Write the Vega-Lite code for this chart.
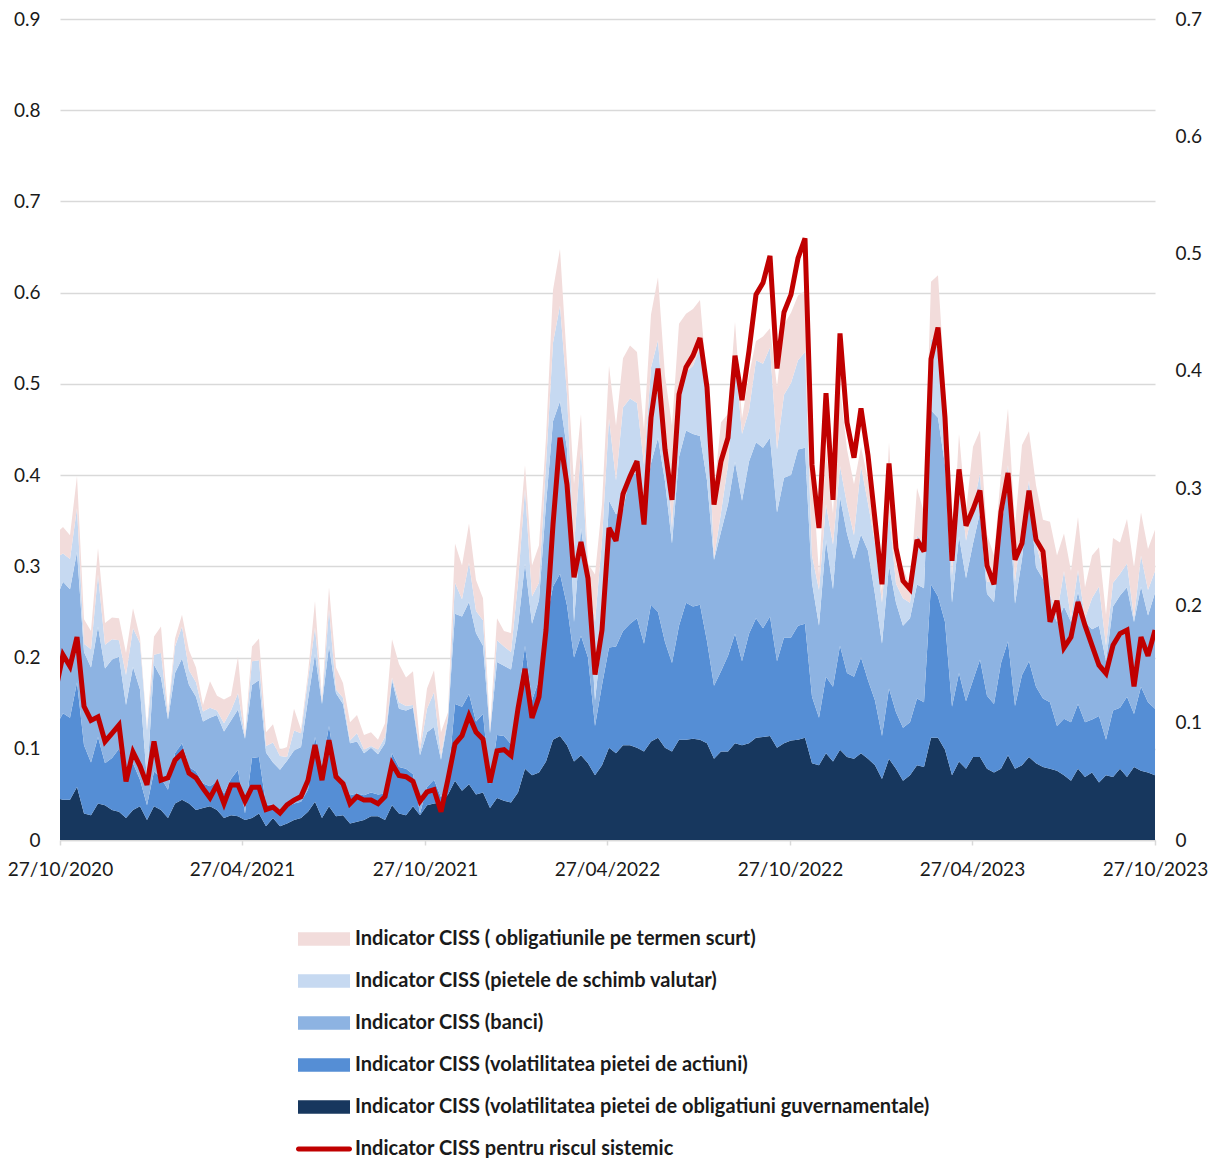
{
  "$schema": "https://vega.github.io/schema/vega-lite/v6.json",
  "width": 1095,
  "height": 821,
  "autosize": {"type": "none"},
  "padding": {"left": 60, "top": 19, "right": 54, "bottom": 318},
  "background": "white",
  "config": {
    "view": {"stroke": null},
    "font": "Lato",
    "axis": {"labelFont": "Lato", "labelFontSize": 19, "labelColor": "#1a1a1a"}
  },
  "data": {"values": [
{"t":"2020-10-23","a":0.046,"b":0.079,"c":0.139,"d":0.046,"e":0.026,"r":0.129},
{"t":"2020-10-30","a":0.044,"b":0.095,"c":0.144,"d":0.031,"e":0.029,"r":0.158},
{"t":"2020-11-06","a":0.044,"b":0.090,"c":0.141,"d":0.033,"e":0.026,"r":0.148},
{"t":"2020-11-13","a":0.058,"b":0.115,"c":0.143,"d":0.048,"e":0.035,"r":0.173},
{"t":"2020-11-20","a":0.029,"b":0.075,"c":0.102,"d":0.009,"e":0.027,"r":0.114},
{"t":"2020-11-27","a":0.027,"b":0.058,"c":0.104,"d":0.020,"e":0.020,"r":0.102},
{"t":"2020-12-04","a":0.040,"b":0.073,"c":0.121,"d":0.057,"e":0.029,"r":0.105},
{"t":"2020-12-11","a":0.038,"b":0.046,"c":0.104,"d":0.026,"e":0.024,"r":0.084},
{"t":"2020-12-18","a":0.033,"b":0.057,"c":0.108,"d":0.022,"e":0.024,"r":0.091},
{"t":"2020-12-25","a":0.031,"b":0.069,"c":0.101,"d":0.018,"e":0.024,"r":0.098},
{"t":"2021-01-01","a":0.024,"b":0.051,"c":0.073,"d":0.033,"e":0.024,"r":0.050},
{"t":"2021-01-08","a":0.033,"b":0.051,"c":0.106,"d":0.042,"e":0.022,"r":0.075},
{"t":"2021-01-15","a":0.037,"b":0.029,"c":0.099,"d":0.051,"e":0.006,"r":0.063},
{"t":"2021-01-22","a":0.022,"b":0.016,"c":0.027,"d":0.055,"e":0.002,"r":0.047},
{"t":"2021-01-29","a":0.037,"b":0.038,"c":0.117,"d":0.011,"e":0.020,"r":0.084},
{"t":"2021-02-05","a":0.033,"b":0.035,"c":0.110,"d":0.027,"e":0.029,"r":0.051},
{"t":"2021-02-12","a":0.024,"b":0.031,"c":0.077,"d":0.004,"e":0.004,"r":0.053},
{"t":"2021-02-19","a":0.040,"b":0.055,"c":0.088,"d":0.029,"e":0.009,"r":0.068},
{"t":"2021-02-26","a":0.044,"b":0.062,"c":0.093,"d":0.035,"e":0.013,"r":0.074},
{"t":"2021-03-05","a":0.040,"b":0.040,"c":0.090,"d":0.016,"e":0.022,"r":0.057},
{"t":"2021-03-12","a":0.033,"b":0.042,"c":0.082,"d":0.016,"e":0.016,"r":0.053},
{"t":"2021-03-19","a":0.035,"b":0.027,"c":0.068,"d":0.011,"e":0.007,"r":0.044},
{"t":"2021-03-26","a":0.037,"b":0.022,"c":0.075,"d":0.011,"e":0.029,"r":0.036},
{"t":"2021-04-02","a":0.033,"b":0.031,"c":0.073,"d":0.005,"e":0.016,"r":0.047},
{"t":"2021-04-09","a":0.024,"b":0.027,"c":0.068,"d":0.009,"e":0.026,"r":0.031},
{"t":"2021-04-16","a":0.027,"b":0.040,"c":0.064,"d":0.011,"e":0.016,"r":0.047},
{"t":"2021-04-23","a":0.026,"b":0.051,"c":0.066,"d":0.018,"e":0.040,"r":0.047},
{"t":"2021-04-30","a":0.022,"b":0.007,"c":0.082,"d":0.002,"e":0.002,"r":0.033},
{"t":"2021-05-07","a":0.024,"b":0.066,"c":0.080,"d":0.026,"e":0.016,"r":0.045},
{"t":"2021-05-14","a":0.029,"b":0.062,"c":0.084,"d":0.022,"e":0.024,"r":0.045},
{"t":"2021-05-21","a":0.015,"b":0.024,"c":0.057,"d":0.007,"e":0.015,"r":0.026},
{"t":"2021-05-28","a":0.024,"b":0.015,"c":0.046,"d":0.022,"e":0.020,"r":0.028},
{"t":"2021-06-04","a":0.015,"b":0.018,"c":0.044,"d":0.015,"e":0.007,"r":0.023},
{"t":"2021-06-11","a":0.018,"b":0.018,"c":0.051,"d":0.004,"e":0.011,"r":0.030},
{"t":"2021-06-18","a":0.022,"b":0.018,"c":0.058,"d":0.022,"e":0.024,"r":0.034},
{"t":"2021-06-25","a":0.024,"b":0.018,"c":0.060,"d":0.015,"e":0.004,"r":0.037},
{"t":"2021-07-02","a":0.031,"b":0.024,"c":0.099,"d":0.022,"e":0.007,"r":0.051},
{"t":"2021-07-09","a":0.042,"b":0.071,"c":0.091,"d":0.029,"e":0.029,"r":0.081},
{"t":"2021-07-16","a":0.024,"b":0.057,"c":0.068,"d":0.002,"e":0.004,"r":0.051},
{"t":"2021-07-23","a":0.037,"b":0.088,"c":0.088,"d":0.040,"e":0.024,"r":0.085},
{"t":"2021-07-30","a":0.026,"b":0.049,"c":0.086,"d":0.004,"e":0.024,"r":0.054},
{"t":"2021-08-06","a":0.027,"b":0.038,"c":0.084,"d":0.007,"e":0.016,"r":0.048},
{"t":"2021-08-13","a":0.018,"b":0.031,"c":0.057,"d":0.003,"e":0.020,"r":0.031},
{"t":"2021-08-20","a":0.020,"b":0.031,"c":0.057,"d":0.009,"e":0.020,"r":0.037},
{"t":"2021-08-27","a":0.022,"b":0.027,"c":0.046,"d":0.004,"e":0.016,"r":0.034},
{"t":"2021-09-03","a":0.026,"b":0.026,"c":0.049,"d":0.002,"e":0.015,"r":0.034},
{"t":"2021-09-10","a":0.026,"b":0.024,"c":0.044,"d":0.005,"e":0.011,"r":0.031},
{"t":"2021-09-17","a":0.022,"b":0.029,"c":0.055,"d":0.007,"e":0.015,"r":0.037},
{"t":"2021-09-24","a":0.038,"b":0.057,"c":0.080,"d":0.003,"e":0.042,"r":0.065},
{"t":"2021-10-01","a":0.029,"b":0.051,"c":0.064,"d":0.007,"e":0.042,"r":0.055},
{"t":"2021-10-08","a":0.027,"b":0.051,"c":0.064,"d":0.005,"e":0.031,"r":0.054},
{"t":"2021-10-15","a":0.037,"b":0.035,"c":0.073,"d":0.003,"e":0.037,"r":0.050},
{"t":"2021-10-22","a":0.027,"b":0.002,"c":0.064,"d":0.005,"e":0.007,"r":0.033},
{"t":"2021-10-29","a":0.038,"b":0.020,"c":0.060,"d":0.026,"e":0.022,"r":0.041},
{"t":"2021-11-05","a":0.040,"b":0.026,"c":0.058,"d":0.038,"e":0.024,"r":0.043},
{"t":"2021-11-12","a":0.041,"b":0.006,"c":0.041,"d":0.004,"e":0.026,"r":0.024},
{"t":"2021-11-19","a":0.050,"b":0.015,"c":0.067,"d":0.004,"e":0.004,"r":0.052},
{"t":"2021-11-26","a":0.065,"b":0.084,"c":0.099,"d":0.034,"e":0.043,"r":0.082},
{"t":"2021-12-03","a":0.054,"b":0.092,"c":0.099,"d":0.019,"e":0.037,"r":0.089},
{"t":"2021-12-10","a":0.061,"b":0.099,"c":0.101,"d":0.043,"e":0.043,"r":0.106},
{"t":"2021-12-17","a":0.050,"b":0.080,"c":0.097,"d":0.024,"e":0.034,"r":0.092},
{"t":"2021-12-24","a":0.052,"b":0.086,"c":0.075,"d":0.028,"e":0.024,"r":0.086},
{"t":"2021-12-31","a":0.035,"b":0.026,"c":0.056,"d":0.002,"e":0.004,"r":0.049},
{"t":"2022-01-07","a":0.046,"b":0.069,"c":0.080,"d":0.024,"e":0.024,"r":0.076},
{"t":"2022-01-14","a":0.043,"b":0.071,"c":0.077,"d":0.021,"e":0.017,"r":0.077},
{"t":"2022-01-21","a":0.041,"b":0.064,"c":0.082,"d":0.019,"e":0.021,"r":0.072},
{"t":"2022-01-28","a":0.052,"b":0.101,"c":0.082,"d":0.047,"e":0.037,"r":0.112},
{"t":"2022-02-04","a":0.078,"b":0.135,"c":0.090,"d":0.082,"e":0.026,"r":0.146},
{"t":"2022-02-11","a":0.071,"b":0.082,"c":0.084,"d":0.030,"e":0.034,"r":0.104},
{"t":"2022-02-18","a":0.074,"b":0.101,"c":0.088,"d":0.019,"e":0.041,"r":0.122},
{"t":"2022-02-25","a":0.086,"b":0.153,"c":0.129,"d":0.043,"e":0.030,"r":0.179},
{"t":"2022-03-04","a":0.110,"b":0.168,"c":0.181,"d":0.086,"e":0.058,"r":0.269},
{"t":"2022-03-11","a":0.114,"b":0.178,"c":0.189,"d":0.105,"e":0.062,"r":0.343},
{"t":"2022-03-18","a":0.104,"b":0.153,"c":0.172,"d":0.060,"e":0.034,"r":0.303},
{"t":"2022-03-25","a":0.086,"b":0.114,"c":0.039,"d":0.082,"e":0.069,"r":0.224},
{"t":"2022-04-01","a":0.093,"b":0.131,"c":0.118,"d":0.088,"e":0.037,"r":0.254},
{"t":"2022-04-08","a":0.084,"b":0.116,"c":0.086,"d":0.004,"e":0.013,"r":0.223},
{"t":"2022-04-15","a":0.071,"b":0.054,"c":0.028,"d":0.086,"e":0.052,"r":0.141},
{"t":"2022-04-22","a":0.082,"b":0.088,"c":0.054,"d":0.105,"e":0.039,"r":0.179},
{"t":"2022-04-29","a":0.101,"b":0.110,"c":0.161,"d":0.090,"e":0.058,"r":0.266},
{"t":"2022-05-06","a":0.095,"b":0.117,"c":0.145,"d":0.037,"e":0.060,"r":0.255},
{"t":"2022-05-13","a":0.104,"b":0.125,"c":0.133,"d":0.112,"e":0.054,"r":0.295},
{"t":"2022-05-20","a":0.104,"b":0.133,"c":0.163,"d":0.084,"e":0.058,"r":0.310},
{"t":"2022-05-27","a":0.101,"b":0.142,"c":0.159,"d":0.077,"e":0.056,"r":0.323},
{"t":"2022-06-03","a":0.097,"b":0.118,"c":0.153,"d":0.043,"e":0.039,"r":0.269},
{"t":"2022-06-10","a":0.108,"b":0.150,"c":0.155,"d":0.105,"e":0.058,"r":0.360},
{"t":"2022-06-17","a":0.112,"b":0.138,"c":0.191,"d":0.107,"e":0.069,"r":0.402},
{"t":"2022-06-24","a":0.101,"b":0.116,"c":0.176,"d":0.052,"e":0.064,"r":0.333},
{"t":"2022-07-01","a":0.097,"b":0.097,"c":0.131,"d":0.017,"e":0.112,"r":0.290},
{"t":"2022-07-08","a":0.110,"b":0.125,"c":0.185,"d":0.069,"e":0.077,"r":0.380},
{"t":"2022-07-15","a":0.110,"b":0.150,"c":0.189,"d":0.064,"e":0.064,"r":0.403},
{"t":"2022-07-22","a":0.111,"b":0.145,"c":0.189,"d":0.075,"e":0.062,"r":0.413},
{"t":"2022-07-29","a":0.110,"b":0.148,"c":0.185,"d":0.097,"e":0.052,"r":0.428},
{"t":"2022-08-05","a":0.106,"b":0.112,"c":0.176,"d":0.095,"e":0.013,"r":0.386},
{"t":"2022-08-12","a":0.089,"b":0.080,"c":0.138,"d":0.002,"e":0.073,"r":0.286},
{"t":"2022-08-19","a":0.097,"b":0.088,"c":0.153,"d":0.021,"e":0.099,"r":0.323},
{"t":"2022-08-26","a":0.097,"b":0.105,"c":0.166,"d":0.043,"e":0.056,"r":0.343},
{"t":"2022-09-02","a":0.106,"b":0.120,"c":0.189,"d":0.116,"e":0.037,"r":0.413},
{"t":"2022-09-09","a":0.104,"b":0.092,"c":0.176,"d":0.073,"e":0.017,"r":0.375},
{"t":"2022-09-16","a":0.106,"b":0.120,"c":0.189,"d":0.056,"e":0.039,"r":0.417},
{"t":"2022-09-23","a":0.112,"b":0.131,"c":0.193,"d":0.090,"e":0.021,"r":0.465},
{"t":"2022-09-30","a":0.113,"b":0.119,"c":0.198,"d":0.092,"e":0.030,"r":0.475},
{"t":"2022-10-07","a":0.114,"b":0.131,"c":0.196,"d":0.099,"e":0.021,"r":0.498},
{"t":"2022-10-14","a":0.101,"b":0.095,"c":0.163,"d":0.069,"e":0.069,"r":0.402},
{"t":"2022-10-21","a":0.106,"b":0.116,"c":0.175,"d":0.091,"e":0.077,"r":0.450},
{"t":"2022-10-28","a":0.109,"b":0.113,"c":0.178,"d":0.101,"e":0.077,"r":0.465},
{"t":"2022-11-04","a":0.110,"b":0.125,"c":0.193,"d":0.098,"e":0.071,"r":0.496},
{"t":"2022-11-11","a":0.112,"b":0.125,"c":0.193,"d":0.105,"e":0.067,"r":0.513},
{"t":"2022-11-18","a":0.084,"b":0.073,"c":0.125,"d":0.030,"e":0.099,"r":0.320},
{"t":"2022-11-25","a":0.082,"b":0.052,"c":0.101,"d":0.039,"e":0.017,"r":0.266},
{"t":"2022-12-02","a":0.095,"b":0.084,"c":0.150,"d":0.039,"e":0.060,"r":0.381},
{"t":"2022-12-09","a":0.086,"b":0.082,"c":0.107,"d":0.049,"e":0.034,"r":0.290},
{"t":"2022-12-16","a":0.099,"b":0.114,"c":0.163,"d":0.034,"e":0.086,"r":0.432},
{"t":"2022-12-23","a":0.091,"b":0.092,"c":0.153,"d":0.032,"e":0.060,"r":0.356},
{"t":"2022-12-30","a":0.089,"b":0.090,"c":0.129,"d":0.026,"e":0.056,"r":0.326},
{"t":"2023-01-06","a":0.095,"b":0.105,"c":0.135,"d":0.075,"e":0.021,"r":0.368},
{"t":"2023-01-13","a":0.089,"b":0.086,"c":0.142,"d":0.052,"e":0.026,"r":0.328},
{"t":"2023-01-20","a":0.082,"b":0.071,"c":0.116,"d":0.056,"e":0.009,"r":0.273},
{"t":"2023-01-27","a":0.067,"b":0.047,"c":0.101,"d":0.045,"e":0.013,"r":0.218},
{"t":"2023-02-03","a":0.089,"b":0.077,"c":0.135,"d":0.058,"e":0.077,"r":0.321},
{"t":"2023-02-10","a":0.078,"b":0.062,"c":0.120,"d":0.021,"e":0.021,"r":0.249},
{"t":"2023-02-17","a":0.065,"b":0.058,"c":0.112,"d":0.030,"e":0.034,"r":0.221},
{"t":"2023-02-24","a":0.071,"b":0.058,"c":0.114,"d":0.017,"e":0.017,"r":0.214},
{"t":"2023-03-03","a":0.082,"b":0.073,"c":0.125,"d":0.054,"e":0.052,"r":0.256},
{"t":"2023-03-10","a":0.080,"b":0.071,"c":0.125,"d":0.049,"e":0.034,"r":0.246},
{"t":"2023-03-17","a":0.112,"b":0.168,"c":0.191,"d":0.077,"e":0.064,"r":0.410},
{"t":"2023-03-24","a":0.112,"b":0.155,"c":0.196,"d":0.092,"e":0.064,"r":0.437},
{"t":"2023-03-31","a":0.099,"b":0.140,"c":0.172,"d":0.043,"e":0.043,"r":0.360},
{"t":"2023-04-07","a":0.071,"b":0.075,"c":0.114,"d":0.030,"e":0.017,"r":0.238},
{"t":"2023-04-14","a":0.086,"b":0.097,"c":0.150,"d":0.069,"e":0.043,"r":0.316},
{"t":"2023-04-21","a":0.078,"b":0.074,"c":0.135,"d":0.041,"e":0.032,"r":0.268},
{"t":"2023-04-28","a":0.091,"b":0.084,"c":0.150,"d":0.039,"e":0.067,"r":0.282},
{"t":"2023-05-05","a":0.091,"b":0.107,"c":0.161,"d":0.043,"e":0.047,"r":0.298},
{"t":"2023-05-12","a":0.078,"b":0.080,"c":0.112,"d":0.013,"e":0.052,"r":0.234},
{"t":"2023-05-19","a":0.074,"b":0.075,"c":0.112,"d":0.021,"e":0.030,"r":0.218},
{"t":"2023-05-26","a":0.078,"b":0.116,"c":0.148,"d":0.017,"e":0.043,"r":0.280},
{"t":"2023-06-02","a":0.093,"b":0.125,"c":0.176,"d":0.017,"e":0.062,"r":0.313},
{"t":"2023-06-09","a":0.078,"b":0.069,"c":0.112,"d":0.024,"e":0.060,"r":0.239},
{"t":"2023-06-16","a":0.082,"b":0.099,"c":0.127,"d":0.039,"e":0.086,"r":0.253},
{"t":"2023-06-23","a":0.091,"b":0.105,"c":0.187,"d":0.011,"e":0.054,"r":0.298},
{"t":"2023-06-30","a":0.084,"b":0.084,"c":0.131,"d":0.026,"e":0.064,"r":0.256},
{"t":"2023-07-07","a":0.080,"b":0.075,"c":0.131,"d":0.009,"e":0.056,"r":0.246},
{"t":"2023-07-14","a":0.078,"b":0.073,"c":0.105,"d":0.013,"e":0.080,"r":0.186},
{"t":"2023-07-21","a":0.076,"b":0.049,"c":0.114,"d":0.009,"e":0.064,"r":0.204},
{"t":"2023-07-28","a":0.071,"b":0.062,"c":0.123,"d":0.039,"e":0.041,"r":0.164},
{"t":"2023-08-04","a":0.065,"b":0.064,"c":0.110,"d":0.004,"e":0.052,"r":0.173},
{"t":"2023-08-11","a":0.078,"b":0.071,"c":0.123,"d":0.024,"e":0.058,"r":0.203},
{"t":"2023-08-18","a":0.069,"b":0.060,"c":0.110,"d":0.004,"e":0.034,"r":0.183},
{"t":"2023-08-25","a":0.074,"b":0.058,"c":0.099,"d":0.034,"e":0.047,"r":0.166},
{"t":"2023-09-01","a":0.063,"b":0.073,"c":0.099,"d":0.043,"e":0.043,"r":0.149},
{"t":"2023-09-08","a":0.071,"b":0.039,"c":0.086,"d":0.017,"e":0.034,"r":0.142},
{"t":"2023-09-15","a":0.069,"b":0.073,"c":0.114,"d":0.026,"e":0.049,"r":0.166},
{"t":"2023-09-22","a":0.078,"b":0.067,"c":0.123,"d":0.024,"e":0.034,"r":0.176},
{"t":"2023-09-29","a":0.069,"b":0.088,"c":0.120,"d":0.026,"e":0.049,"r":0.179},
{"t":"2023-10-06","a":0.080,"b":0.058,"c":0.101,"d":0.004,"e":0.056,"r":0.131},
{"t":"2023-10-13","a":0.076,"b":0.092,"c":0.110,"d":0.034,"e":0.047,"r":0.173},
{"t":"2023-10-20","a":0.074,"b":0.077,"c":0.095,"d":0.028,"e":0.045,"r":0.157},
{"t":"2023-10-27","a":0.071,"b":0.073,"c":0.127,"d":0.024,"e":0.045,"r":0.179}
  ]},
  "encoding": {
    "x": {
      "field": "t", "type": "temporal",
      "scale": {"type": "utc", "domain": [{"year": 2020, "month": 10, "date": 27, "utc": true}, {"year": 2023, "month": 10, "date": 27, "utc": true}]},
      "axis": {
        "title": null,
        "format": "%d/%m/%Y",
        "values": [
          {"year": 2020, "month": 10, "date": 27, "utc": true},
          {"year": 2021, "month": 4, "date": 27, "utc": true},
          {"year": 2021, "month": 10, "date": 27, "utc": true},
          {"year": 2022, "month": 4, "date": 27, "utc": true},
          {"year": 2022, "month": 10, "date": 27, "utc": true},
          {"year": 2023, "month": 4, "date": 27, "utc": true},
          {"year": 2023, "month": 10, "date": 27, "utc": true}
        ],
        "grid": false,
        "domainColor": "#d9d9d9", "domainWidth": 1.5,
        "tickColor": "#d9d9d9", "tickWidth": 1.5, "tickSize": 5,
        "labelPadding": 15, "labelFlush": false, "labelOverlap": false
      }
    }
  },
  "layer": [
    {
      "transform": [{"fold": ["a", "b", "c", "d", "e"], "as": ["key", "value"]}],
      "mark": {"type": "area", "clip": true, "interpolate": "linear"},
      "encoding": {
        "y": {
          "field": "value", "type": "quantitative", "stack": "zero",
          "scale": {"domain": [0, 0.9], "nice": false},
          "axis": {
            "title": null, "orient": "left",
            "values": [0, 0.1, 0.2, 0.3, 0.4, 0.5, 0.6, 0.7, 0.8, 0.9],
            "format": ".1~f",
            "grid": true, "gridColor": "#d9d9d9", "gridWidth": 1.5,
            "domain": false, "ticks": false, "labelPadding": 20
          }
        },
        "order": {"field": "key", "sort": "ascending"},
        "color": {
          "field": "key", "type": "nominal",
          "scale": {
            "domain": ["e", "d", "c", "b", "a", "r"],
            "range": ["#f2dcdb", "#c6d9f1", "#8db3e2", "#558ed5", "#17375e", "#c00000"]
          },
          "legend": {
            "orient": "none", "legendX": 238, "legendY": 910,
            "direction": "vertical", "title": null, "padding": 0,
            "symbolSize": 400, "rowPadding": 22, "labelOffset": 37,
            "labelFont": "Lato", "labelFontSize": 20, "labelFontWeight": "bold",
            "labelColor": "#1a1a1a", "labelLimit": 0,
            "labelExpr": "datum.label === 'e' ? 'Indicator CISS ( obligatiunile pe termen scurt)' : datum.label === 'd' ? 'Indicator CISS (pietele de schimb valutar)' : datum.label === 'c' ? 'Indicator CISS (banci)' : datum.label === 'b' ? 'Indicator CISS (volatilitatea pietei de actiuni)' : datum.label === 'a' ? 'Indicator CISS (volatilitatea pietei de obligatiuni guvernamentale)' : 'Indicator CISS pentru riscul sistemic'",
            "encode": {
              "symbols": {
                "update": {
                  "shape": [
                    {"test": "datum.value === 'r'", "value": "M-0.95,-0.25H4.15A0.25,0.25 0 0 1 4.15,0.25H-0.95A0.25,0.25 0 0 1 -0.95,-0.25Z"},
                    {"value": "M-1,-0.68H4.2V0.68H-1Z"}
                  ],
                  "fill": {"scale": "color", "field": "value"},
                  "stroke": {"value": "transparent"},
                  "strokeWidth": {"value": 0},
                  "opacity": {"value": 1},
                  "fillOpacity": {"value": 1}
                }
              }
            }
          }
        }
      }
    },
    {
      "mark": {"type": "line", "clip": true, "strokeWidth": 5, "strokeJoin": "miter", "strokeMiterLimit": 3},
      "encoding": {
        "y": {
          "field": "r", "type": "quantitative",
          "scale": {"domain": [0, 0.7], "nice": false},
          "axis": {
            "title": null, "orient": "right",
            "values": [0, 0.1, 0.2, 0.3, 0.4, 0.5, 0.6, 0.7],
            "format": ".1~f",
            "grid": false, "domain": false, "ticks": false, "labelPadding": 20
          }
        },
        "color": {"datum": "r"}
      }
    }
  ],
  "resolve": {"scale": {"y": "independent"}}
}
